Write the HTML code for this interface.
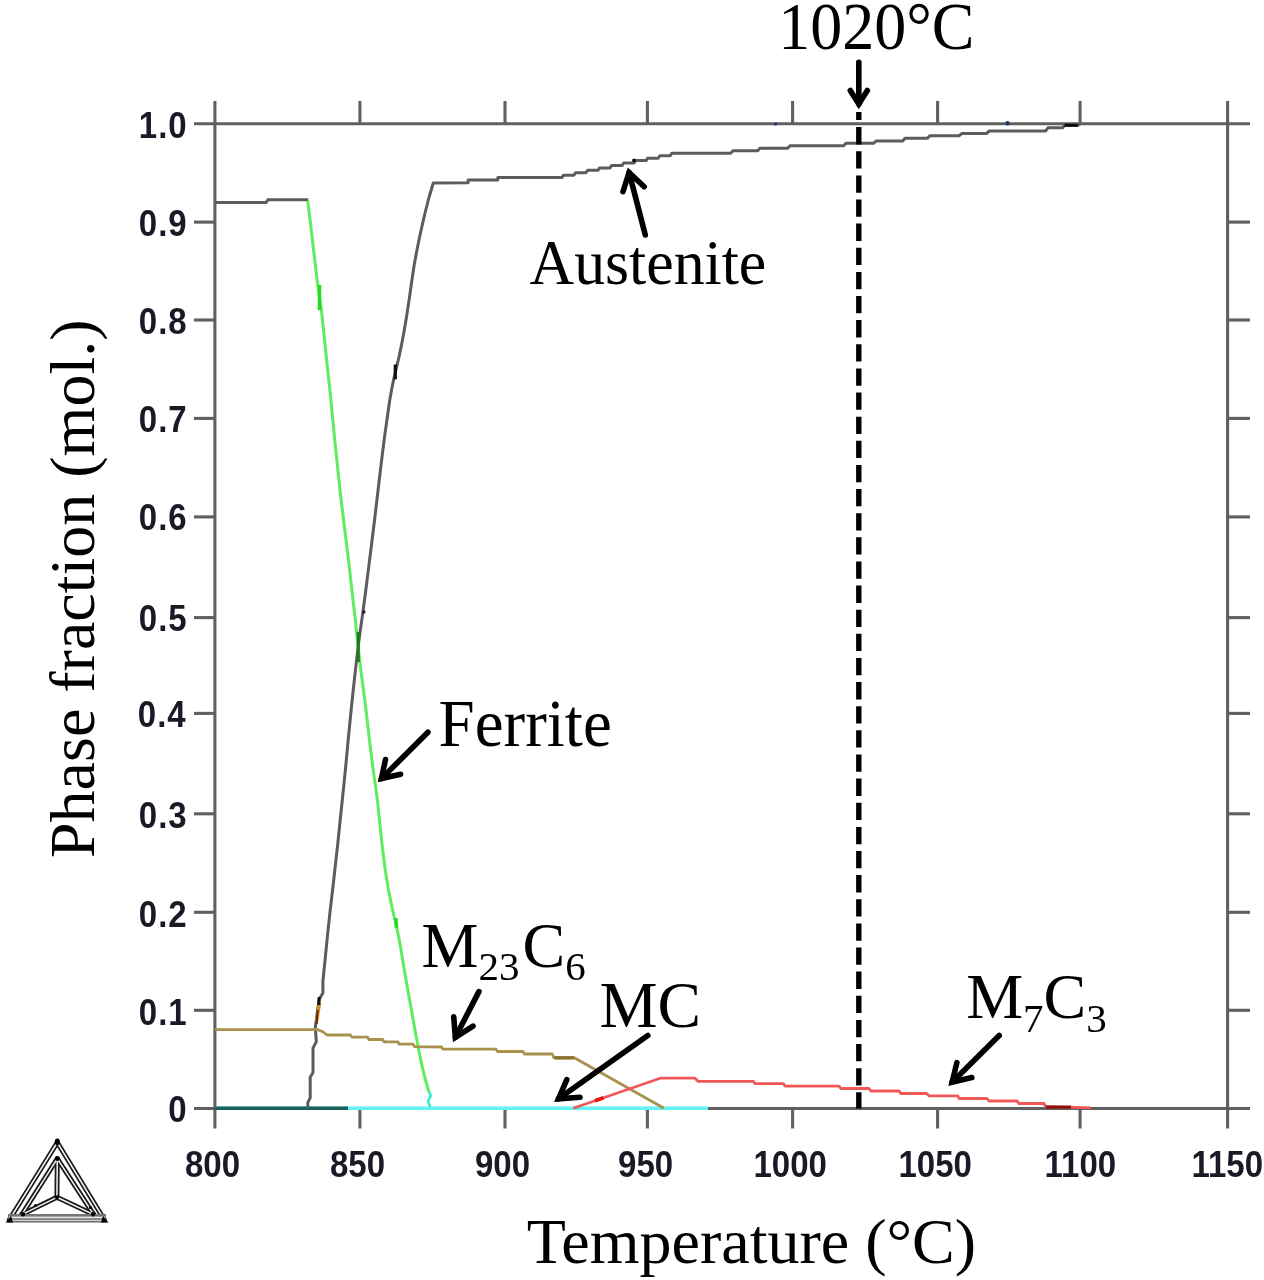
<!DOCTYPE html><html><head><meta charset="utf-8"><title>Phase fraction vs Temperature</title>
<style>html,body{margin:0;padding:0;background:#fff;overflow:hidden;}svg{display:block;}.tk{font-family:"Liberation Sans",Arial,sans-serif;font-weight:bold;fill:#1a1a26;}.sr{font-family:"Liberation Serif","Times New Roman",serif;fill:#000;}</style></head><body>
<svg width="1264" height="1280" viewBox="0 0 1264 1280">
<rect width="1264" height="1280" fill="#fff"/>
<g stroke="#606060" stroke-width="3.1" fill="none" stroke-linecap="butt">
<line x1="194" y1="123.8" x2="1250" y2="123.8"/>
<line x1="194" y1="1108.5" x2="1250" y2="1108.5"/>
<line x1="214.9" y1="101" x2="214.9" y2="1128.5"/>
<line x1="1227.6" y1="101" x2="1227.6" y2="1128.5"/>
<line x1="359.9" y1="101" x2="359.9" y2="123.8"/>
<line x1="359.9" y1="1108.5" x2="359.9" y2="1128.5"/>
<line x1="505.0" y1="101" x2="505.0" y2="123.8"/>
<line x1="505.0" y1="1108.5" x2="505.0" y2="1128.5"/>
<line x1="647.4" y1="101" x2="647.4" y2="123.8"/>
<line x1="647.4" y1="1108.5" x2="647.4" y2="1128.5"/>
<line x1="792.6" y1="101" x2="792.6" y2="123.8"/>
<line x1="792.6" y1="1108.5" x2="792.6" y2="1128.5"/>
<line x1="937.6" y1="101" x2="937.6" y2="123.8"/>
<line x1="937.6" y1="1108.5" x2="937.6" y2="1128.5"/>
<line x1="1080.1" y1="101" x2="1080.1" y2="123.8"/>
<line x1="1080.1" y1="1108.5" x2="1080.1" y2="1128.5"/>
<line x1="194" y1="1010.3" x2="214.9" y2="1010.3"/>
<line x1="1227.6" y1="1010.3" x2="1250" y2="1010.3"/>
<line x1="194" y1="912.3" x2="214.9" y2="912.3"/>
<line x1="1227.6" y1="912.3" x2="1250" y2="912.3"/>
<line x1="194" y1="813.8" x2="214.9" y2="813.8"/>
<line x1="1227.6" y1="813.8" x2="1250" y2="813.8"/>
<line x1="194" y1="713.4" x2="214.9" y2="713.4"/>
<line x1="1227.6" y1="713.4" x2="1250" y2="713.4"/>
<line x1="194" y1="617.6" x2="214.9" y2="617.6"/>
<line x1="1227.6" y1="617.6" x2="1250" y2="617.6"/>
<line x1="194" y1="516.9" x2="214.9" y2="516.9"/>
<line x1="1227.6" y1="516.9" x2="1250" y2="516.9"/>
<line x1="194" y1="418.4" x2="214.9" y2="418.4"/>
<line x1="1227.6" y1="418.4" x2="1250" y2="418.4"/>
<line x1="194" y1="320.0" x2="214.9" y2="320.0"/>
<line x1="1227.6" y1="320.0" x2="1250" y2="320.0"/>
<line x1="194" y1="222.1" x2="214.9" y2="222.1"/>
<line x1="1227.6" y1="222.1" x2="1250" y2="222.1"/>
</g>
<g class="tk" font-size="33" text-anchor="middle">
<text transform="translate(212.5,1176.6) scale(1,1.1)">800</text>
<text transform="translate(357.5,1176.6) scale(1,1.1)">850</text>
<text transform="translate(502.5,1176.6) scale(1,1.1)">900</text>
<text transform="translate(645.6,1176.6) scale(1,1.1)">950</text>
<text transform="translate(790.2,1176.6) scale(1,1.1)">1000</text>
<text transform="translate(935.2,1176.6) scale(1,1.1)">1050</text>
<text transform="translate(1080.3,1176.6) scale(1,1.1)">1100</text>
<text transform="translate(1227.2,1176.6) scale(1,1.1)">1150</text>
</g>
<g class="tk" font-size="33" text-anchor="end" letter-spacing="1">
<text transform="translate(187.7,1122.1) scale(1,1.1)">0</text>
<text transform="translate(187.7,1024.5) scale(1,1.1)">0.1</text>
<text transform="translate(187.7,926.5) scale(1,1.1)">0.2</text>
<text transform="translate(187.7,828.0) scale(1,1.1)">0.3</text>
<text transform="translate(186.7,726.8) scale(1,1.1)">0.4</text>
<text transform="translate(187.7,631.4) scale(1,1.1)">0.5</text>
<text transform="translate(187.7,530.3) scale(1,1.1)">0.6</text>
<text transform="translate(187.7,431.8) scale(1,1.1)">0.7</text>
<text transform="translate(187.7,333.6) scale(1,1.1)">0.8</text>
<text transform="translate(187.7,235.9) scale(1,1.1)">0.9</text>
<text transform="translate(187.7,138.0) scale(1,1.1)">1.0</text>
</g>
<line x1="215" y1="1108.2" x2="708" y2="1108.2" stroke="#62f4f4" stroke-width="3.6"/>
<line x1="215" y1="1108.2" x2="348" y2="1108.2" stroke="#1c625c" stroke-width="3.4"/>
<polyline points="307.8,1107.5 307.8,1102.6 310.2,1097.9 310.2,1077.2 313.0,1072.5 313.0,1048.2 316.3,1041.6 315.3,1027.5 319.1,999.4 322.9,993.0 322.9,981.2 325.4,956.6 327.8,932.7 330.1,911.1 332.5,890.7 335.0,868.5 337.7,844.4 340.1,821.0 342.2,800.9 344.0,783.7 345.8,765.5 347.8,743.9 350.1,720.5 352.4,697.8 354.8,675.8 357.3,653.7 360.0,632.6 362.8,612.9 365.5,592.5 368.4,569.4 371.5,544.8 374.4,521.3 377.0,499.2 379.5,477.8 382.0,457.0 384.5,437.1 387.2,417.9 389.6,401.1 391.8,388.6 393.9,378.4 396.4,367.8 399.0,356.9 401.5,345.0 404.1,331.2 406.7,315.8 409.2,299.2 411.6,282.3 414.1,265.6 417.2,248.7 420.8,231.3 424.9,213.5 429.1,197.0 433.3,183.0 468.1,182.7 468.1,180.1 497.8,180.1 497.8,177.6 556.7,177.6 561.9,177.6 563.5,175.2 573.9,175.2 575.5,172.7 586.0,172.7 587.6,170.3 598.0,170.3 599.6,167.9 610.0,167.9 611.6,165.4 622.1,165.4 623.7,163.0 634.1,163.0 635.7,160.6 646.1,160.6 647.7,158.2 658.2,158.2 659.8,155.7 670.2,155.7 671.8,153.3 677.0,153.3 730.6,153.3 733.0,150.8 757.7,150.8 760.0,148.2 787.8,148.2 790.0,145.8 843.4,145.8 846.0,143.3 873.5,143.3 876.0,141.0 902.7,141.0 905.0,138.3 927.3,138.3 930.0,135.7 959.0,135.7 962.0,133.4 986.8,133.4 989.0,131.1 1045.5,131.1 1048.0,127.8 1062.6,127.8 1064.5,125.3 1077.8,125.3 1080.0,124.0" stroke="#5c5c5c" stroke-width="3.0" fill="none" stroke-linejoin="round"/>
<polyline points="215.0,202.4 266.0,202.4 268.0,199.8 308.2,199.8" stroke="#5c5c5c" stroke-width="3.0" fill="none"/>
<polyline points="307.7,200.7 310.3,221.8 312.9,244.1 315.4,265.6 317.6,283.9 319.8,298.8 321.7,312.5 323.4,328.6 325.5,349.0 327.9,372.2 330.5,395.8 332.8,419.8 335.2,444.4 337.8,469.4 340.5,494.5 343.5,519.5 346.6,544.5 349.6,569.9 352.5,595.3 355.3,620.0 357.8,643.9 360.3,665.5 362.6,683.7 364.9,700.9 367.3,721.1 369.9,743.9 372.6,765.5 375.2,783.7 377.5,800.9 379.6,821.0 382.0,844.4 385.0,868.5 388.5,890.1 392.1,907.7 395.6,922.7 398.8,937.3 401.5,952.7 404.1,968.7 406.7,983.8 409.2,997.8 411.8,1012.3 414.8,1029.0 418.2,1047.5 421.9,1065.4 425.6,1080.3 429.0,1092.0" stroke="#5cee5c" stroke-width="3.0" fill="none" stroke-linejoin="round"/>
<line x1="319.5" y1="285" x2="319.5" y2="310" stroke="#22dd22" stroke-width="3.5"/>
<line x1="395.9" y1="918" x2="396.5" y2="928" stroke="#22dd22" stroke-width="3.5"/>
<path d="M429,1092 Q432,1096 429,1099 Q427,1102 430.5,1107" stroke="#33eecc" stroke-width="2.6" fill="none"/>
<polyline points="215.0,1029.7 318.0,1029.7 323.3,1032.0 327.0,1035.0 350.4,1035.0 352.0,1037.1 367.5,1037.1 369.0,1039.5 382.7,1039.5 384.0,1041.8 397.9,1041.8 399.0,1044.2 413.1,1044.2 414.5,1046.6 441.5,1047.0 443.0,1049.2 495.8,1049.2 497.5,1051.5 523.0,1051.5 524.5,1054.0 552.2,1054.0 554.0,1057.8 574.3,1057.8 663.6,1108.0" stroke="#a8924e" stroke-width="2.8" fill="none" stroke-linejoin="round"/>
<line x1="554.5" y1="1057.8" x2="574.3" y2="1057.8" stroke="#8c7430" stroke-width="3.4"/>
<polyline points="573.2,1108.3 660.2,1078.2 695.0,1078.2 698.2,1081.4 753.5,1081.4 755.0,1083.7 783.5,1083.7 785.0,1086.1 839.0,1086.1 841.0,1088.5 869.0,1088.5 871.0,1091.0 898.9,1091.0 901.0,1093.5 926.7,1093.5 929.0,1095.9 957.8,1095.9 959.0,1098.5 987.0,1098.5 989.0,1101.0 1016.9,1101.0 1019.0,1103.5 1044.0,1103.5 1045.5,1106.5 1091.0,1107.8" stroke="#f05858" stroke-width="2.8" fill="none" stroke-linejoin="round"/>
<line x1="595" y1="1100.7" x2="603.5" y2="1097.8" stroke="#ee1111" stroke-width="3.8"/>
<line x1="1046" y1="1107.1" x2="1071" y2="1107.1" stroke="#8a1010" stroke-width="3"/>
<line x1="1064.5" y1="125.3" x2="1078" y2="125.3" stroke="#0a0a0a" stroke-width="3"/>
<circle cx="1007.5" cy="123.3" r="2.2" fill="#1a3a6a"/>
<circle cx="775.6" cy="124" r="1.6" fill="#1a3a6a"/>
<circle cx="634" cy="160.4" r="1.9" fill="#111"/>
<line x1="358.2" y1="632" x2="358.4" y2="662" stroke="#1f7a1f" stroke-width="3"/>
<circle cx="363.8" cy="612" r="1.8" fill="#222"/>
<line x1="319.5" y1="1003" x2="316.5" y2="1022" stroke="#d08a22" stroke-width="3.4"/>
<line x1="319.2" y1="997" x2="318.8" y2="1005" stroke="#111" stroke-width="3"/>
<line x1="317.6" y1="1010" x2="316.6" y2="1024" stroke="#6a2010" stroke-width="2"/>
<line x1="395.3" y1="364.5" x2="395.3" y2="379.3" stroke="#111" stroke-width="3.2"/>
<path d="M858.8 112.0V120.0 M858.8 127.1V144.4 M858.8 151.2V168.5 M858.8 175.4V192.7 M858.8 199.5V216.8 M858.8 223.6V240.9 M858.8 247.7V265.0 M858.8 271.9V289.2 M858.8 296.0V313.3 M858.8 320.1V337.4 M858.8 344.3V361.6 M858.8 368.4V385.7 M858.8 392.5V409.8 M858.8 416.7V434.0 M858.8 440.8V458.1 M858.8 464.9V482.2 M858.8 489.0V506.3 M858.8 513.2V530.5 M858.8 537.3V554.6 M858.8 561.4V578.7 M858.8 585.6V602.9 M858.8 609.7V627.0 M858.8 633.8V651.1 M858.8 658.0V675.3 M858.8 682.1V699.4 M858.8 706.2V723.5 M858.8 730.3V747.6 M858.8 754.5V771.8 M858.8 778.6V795.9 M858.8 802.7V820.0 M858.8 826.9V844.2 M858.8 851.0V868.3 M858.8 875.1V892.4 M858.8 899.3V916.6 M858.8 923.4V940.7 M858.8 947.5V964.8 M858.8 971.6V988.9 M858.8 995.8V1013.1 M858.8 1019.9V1037.2 M858.8 1044.0V1061.3 M858.8 1068.2V1085.5 M858.8 1092.3V1108.6" stroke="#000" stroke-width="5.4" fill="none"/>
<g stroke="#000" stroke-width="5.6" fill="none" stroke-linecap="round" stroke-linejoin="miter" stroke-miterlimit="10"><line x1="858.8" y1="62.2" x2="858.8" y2="103.96"/><polyline points="850.3,90.5 858.8,104.0 867.3,90.5"/></g>
<g stroke="#000" stroke-width="5.6" fill="none" stroke-linecap="round" stroke-linejoin="miter" stroke-miterlimit="10"><line x1="645.3" y1="235" x2="629.11" y2="172.48"/><polyline points="623.0,191.6 629.1,172.5 644.2,186.7"/></g>
<g stroke="#000" stroke-width="5.6" fill="none" stroke-linecap="round" stroke-linejoin="miter" stroke-miterlimit="10"><line x1="427.9" y1="732.2" x2="381.45" y2="778.61"/><polyline points="385.5,759.5 381.4,778.6 400.6,774.3"/></g>
<g stroke="#000" stroke-width="5.6" fill="none" stroke-linecap="round" stroke-linejoin="miter" stroke-miterlimit="10"><line x1="478.9" y1="991.6" x2="455.37" y2="1037.26"/><polyline points="453.7,1016.7 455.4,1037.3 473.0,1026.1"/></g>
<g stroke="#000" stroke-width="5.6" fill="none" stroke-linecap="round" stroke-linejoin="miter" stroke-miterlimit="10"><line x1="647.8" y1="1035.5" x2="558.5" y2="1098.79"/><polyline points="566.8,1079.6 558.5,1098.8 580.0,1097.3"/></g>
<g stroke="#000" stroke-width="5.6" fill="none" stroke-linecap="round" stroke-linejoin="miter" stroke-miterlimit="10"><line x1="999.2" y1="1035.5" x2="952.11" y2="1082.15"/><polyline points="956.9,1062.7 952.1,1082.2 971.8,1077.6"/></g>
<g class="sr" font-size="64">
<text transform="translate(778.3,48.9) scale(1.0,1.05)">1020°C</text>
<text transform="translate(529.6,283.6) scale(0.965,1.0)">Austenite</text>
<text transform="translate(438.6,745.6) scale(1.015,1.05)">Ferrite</text>
<text x="421.6" y="967.1">M<tspan font-size="41" dy="12.8">23</tspan><tspan dy="-12.8" dx="3">C</tspan><tspan font-size="41" dy="12.8">6</tspan></text>
<text transform="translate(599.4,1027.0) scale(1.02,1.03)">MC</text>
<text x="966.2" y="1018.2">M<tspan font-size="41" dy="14">7</tspan><tspan dy="-14">C</tspan><tspan font-size="41" dy="14">3</tspan></text>
<text x="526.7" y="1263.4">Temperature (°C)</text>
<text transform="translate(94.3,858.0) rotate(-90)">Phase fraction (mol.)</text>
</g>
<g fill="none" stroke-linejoin="round" stroke-linecap="round"><g stroke="#1a1a1a" stroke-width="5.0"><polyline points="9.5,1219.5 57.3,1142.5 104.2,1219.5"/><polyline points="21.8,1214.6 57.3,1158.7 93.7,1214.6"/><polyline points="57.3,1158.7 56.9,1197.3"/><polyline points="21.8,1214.6 56.9,1197.3 93.7,1214.6"/></g><g stroke="#f4f4f4" stroke-width="1.5"><polyline points="9.5,1219.5 57.3,1142.5 104.2,1219.5"/><polyline points="21.8,1214.6 57.3,1158.7 93.7,1214.6"/><polyline points="57.3,1158.7 56.9,1197.3"/><polyline points="21.8,1214.6 56.9,1197.3 93.7,1214.6"/></g></g>
<rect x="8" y="1214" width="98" height="8.6" fill="#767676"/>
<rect x="9" y="1216.6" width="96" height="1.6" fill="#e8e8e8"/>
<rect x="9" y="1219.8" width="96" height="1.2" fill="#d0d0d0"/>
<g fill="#000"><ellipse cx="57.3" cy="1141.8" rx="2.6" ry="3.4"/><circle cx="57.3" cy="1158.7" r="2.3"/><circle cx="56.9" cy="1197.3" r="2"/><polygon points="5.5,1222.5 13,1222.5 11,1216"/><polygon points="101,1222.5 108.5,1222.5 103,1216"/><circle cx="23" cy="1214.2" r="2.2"/><circle cx="93" cy="1214.2" r="2.2"/><circle cx="90.5" cy="1207.5" r="1.6"/><circle cx="35.5" cy="1205.5" r="1.4"/></g>
</svg></body></html>
